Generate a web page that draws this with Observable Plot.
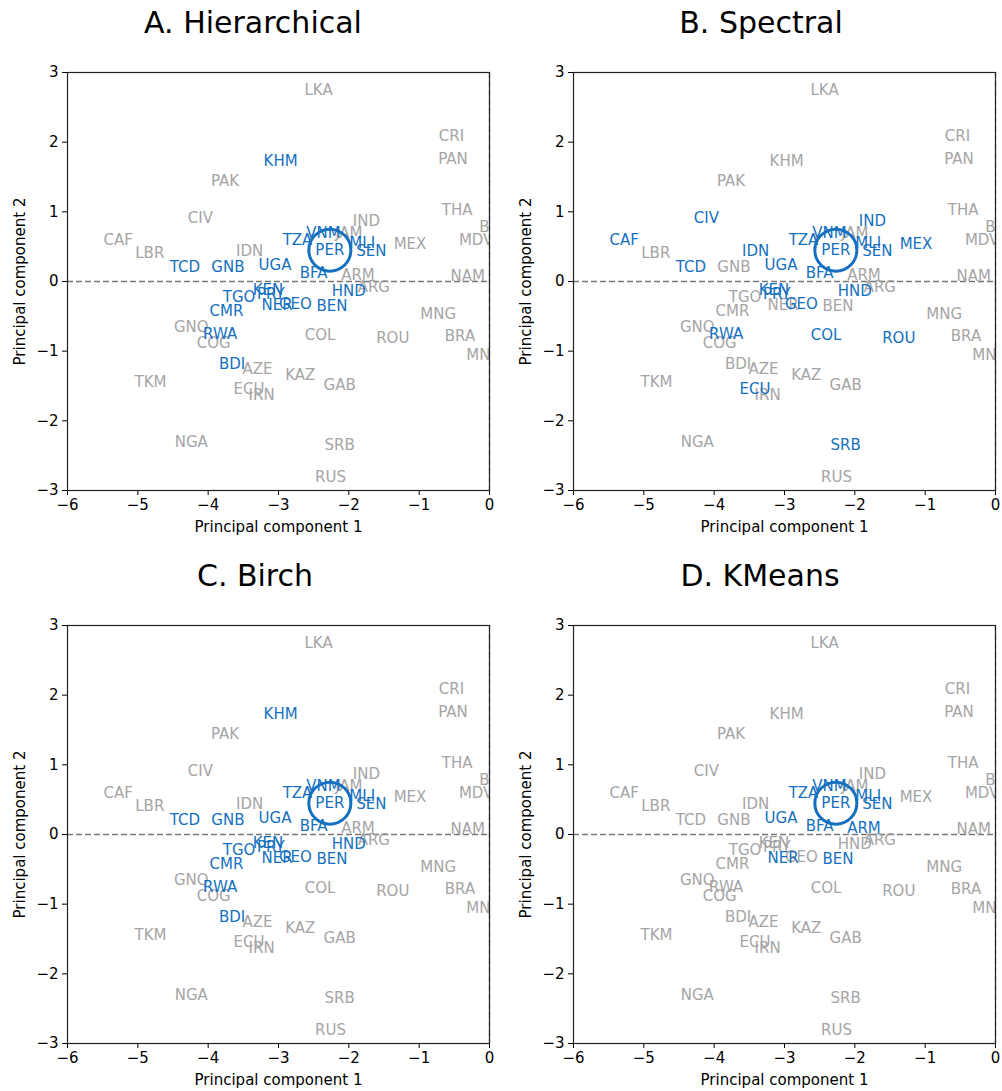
<!DOCTYPE html>
<html><head><meta charset="utf-8">
<script src="https://cdn.jsdelivr.net/npm/d3@7"></script>
<script src="https://cdn.jsdelivr.net/npm/@observablehq/plot@0.6"></script>
<style>
body{margin:0;background:#fff;font-family:"DejaVu Sans",sans-serif;}
#wrap{position:relative;width:1002px;height:1091px;background:#fff;}
.title{position:absolute;font-size:30px;color:#000;transform:translateX(-50%);white-space:nowrap;line-height:1;}
.panel{position:absolute;}
</style></head><body><div id="wrap"></div>
<script>
// Country codes and their principal-component coordinates
const codes = ["LKA","CRI","PAN","KHM","PAK","THA","CIV","IND","BGD","VNM","JAM","CAF","MDV","TZA","MLI","MEX","PER","SEN","IDN","LBR","TCD","GNB","UGA","BFA","ARM","NAM","ARG","HND","KEN","PRY","TGO","NER","GEO","BEN","CMR","MNG","GNQ","RWA","COL","ROU","BRA","COG","MNE","BDI","AZE","KAZ","TKM","GAB","ECU","IRN","NGA","SRB","RUS"];
const pc1 = [-2.43,-0.54,-0.52,-2.97,-3.76,-0.46,-4.11,-1.75,0.09,-2.36,-2.00,-5.28,-0.19,-2.73,-1.81,-1.13,-2.27,-1.68,-3.41,-4.83,-4.33,-3.72,-3.05,-2.50,-1.87,-0.31,-1.645,-2.00,-3.15,-3.11,-3.56,-3.02,-2.76,-2.24,-3.74,-0.73,-4.24,-3.83,-2.41,-1.375,-0.42,-3.92,-0.09,-3.66,-3.30,-2.69,-4.82,-2.13,-3.42,-3.24,-4.24,-2.13,-2.26];
const pc2 = [2.74,2.08,1.75,1.73,1.44,1.03,0.91,0.87,0.78,0.70,0.69,0.60,0.59,0.60,0.55,0.53,0.45,0.44,0.44,0.41,0.21,0.21,0.24,0.12,0.09,0.07,-0.08,-0.14,-0.12,-0.18,-0.23,-0.34,-0.33,-0.36,-0.43,-0.47,-0.66,-0.76,-0.77,-0.81,-0.79,-0.89,-1.06,-1.18,-1.26,-1.34,-1.45,-1.49,-1.54,-1.63,-2.31,-2.35,-2.81];

// Panel titles and the cluster (highlighted) members of each method
const titles = ["A. Hierarchical","B. Spectral","C. Birch","D. KMeans"];
const clusterHierarchical = ["KHM","TZA","VNM","MLI","SEN","PER","TCD","GNB","UGA","BFA","HND","KEN","PRY","TGO","NER","GEO","BEN","CMR","RWA","BDI"];
const clusterSpectral = ["CIV","CAF","IND","TZA","VNM","MLI","SEN","PER","IDN","MEX","TCD","UGA","BFA","HND","KEN","PRY","GEO","RWA","COL","ROU","ECU","SRB"];
const clusterBirch = ["KHM","TZA","VNM","MLI","SEN","PER","TCD","GNB","UGA","BFA","HND","KEN","PRY","TGO","NER","GEO","BEN","CMR","RWA","BDI"];
const clusterKMeans = ["TZA","VNM","MLI","SEN","PER","UGA","BFA","ARM","NER","BEN"];
const highlight = "PER";

const xTicks = [-6,-5,-4,-3,-2,-1,0];
const yTicks = [-3,-2,-1,0,1,2,3];
const xLabel = "Principal component 1";
const yLabel = "Principal component 2";

const BLUE = "#1570c0", GRAY = "#a5a5a5";
const rows = codes.map((c,i)=>({code:c, pc1:pc1[i], pc2:pc2[i]}));
const clusters = [clusterHierarchical, clusterSpectral, clusterBirch, clusterKMeans];

const panelPos = [[0,50],[506,50],[0,603],[506,603]];
const titlePos = [[253,7.6],[761,7.6],[255,560.6],[760,560.6]];
const wrap = document.getElementById("wrap");

clusters.forEach((members, k) => {
  const set = new Set(members);
  const data = rows.map(r => ({...r, inC: set.has(r.code)}));
  const ordered = data.filter(d=>!d.inC).concat(data.filter(d=>d.inC));
  const chart = Plot.plot({
    width: 499, height: 490,
    marginLeft: 67, marginRight: 10, marginTop: 22, marginBottom: 50,
    style: {fontFamily: "DejaVu Sans", fontSize: "15px", color: "#000", background: "transparent", overflow: "visible"},
    x: {domain: [-6,0], ticks: xTicks, tickFormat: d3.format("d"), tickSize: 5, tickPadding: 4, label: null},
    y: {domain: [-3,3], ticks: yTicks, tickFormat: d3.format("d"), tickSize: 5, tickPadding: 4, label: null},
    marks: [
      Plot.ruleY([0], {stroke: "#777", strokeDasharray: "6,3", strokeWidth: 1.3}),
      Plot.ruleX([0], {stroke: "#777", strokeDasharray: "6,3", strokeWidth: 1.3}),
      Plot.text(ordered, {x: "pc1", y: "pc2", text: "code", fill: d => d.inC ? BLUE : GRAY, fontSize: 15, clip: true}),
      Plot.dot(data.filter(d => d.code === highlight), {x: "pc1", y: "pc2", r: 21, stroke: BLUE, strokeWidth: 3, fill: "none"}),
      Plot.frame({stroke: "#222", strokeWidth: 1.2}),
      Plot.text([xLabel], {text: d => d, frameAnchor: "bottom", dy: 37, textAnchor: "middle", lineAnchor: "middle", fontSize: 15, fill: "#000"}),
      Plot.text([yLabel], {text: d => d, frameAnchor: "left", dx: -47, rotate: -90, textAnchor: "middle", lineAnchor: "middle", fontSize: 15, fill: "#000"})
    ]
  });
  chart.classList.add("panel");
  chart.style.left = panelPos[k][0] + "px";
  chart.style.top = panelPos[k][1] + "px";
  wrap.appendChild(chart);
  const t = document.createElement("div");
  t.className = "title";
  t.textContent = titles[k];
  t.style.left = titlePos[k][0] + "px";
  t.style.top = titlePos[k][1] + "px";
  wrap.appendChild(t);
});
</script></body></html>
